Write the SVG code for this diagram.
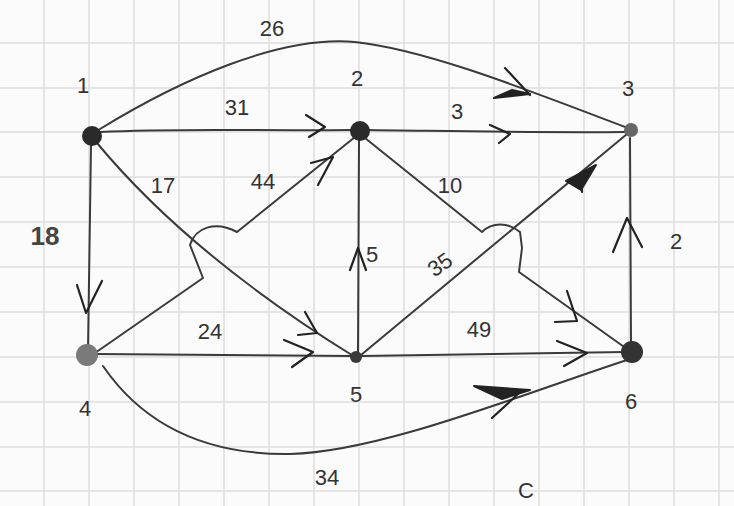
<svg xmlns="http://www.w3.org/2000/svg" width="734" height="506" viewBox="0 0 734 506">
<style>
.grid line{stroke:#dedede;stroke-width:1.5}
.edge{fill:none;stroke:#3a3a3a;stroke-width:2;stroke-linecap:round;stroke-linejoin:round}
.head{fill:none;stroke:#222;stroke-width:2.2;stroke-linecap:round;stroke-linejoin:round}
.solid{fill:#222;stroke:#222;stroke-width:2;stroke-linejoin:round}
.lbl{font-family:"Liberation Sans","DejaVu Sans",sans-serif;font-size:22px;fill:#333;text-anchor:middle;dominant-baseline:middle}
</style>
<rect width="734" height="506" fill="#fbfbfb"/>
<g class="grid">
<line x1="44" y1="0" x2="44" y2="506"/><line x1="89" y1="0" x2="89" y2="506"/><line x1="134" y1="0" x2="134" y2="506"/><line x1="179" y1="0" x2="179" y2="506"/><line x1="224" y1="0" x2="224" y2="506"/><line x1="269" y1="0" x2="269" y2="506"/><line x1="314" y1="0" x2="314" y2="506"/><line x1="359" y1="0" x2="359" y2="506"/><line x1="404" y1="0" x2="404" y2="506"/><line x1="449" y1="0" x2="449" y2="506"/><line x1="494" y1="0" x2="494" y2="506"/><line x1="539" y1="0" x2="539" y2="506"/><line x1="584" y1="0" x2="584" y2="506"/><line x1="629" y1="0" x2="629" y2="506"/><line x1="674" y1="0" x2="674" y2="506"/><line x1="719" y1="0" x2="719" y2="506"/>
<line x1="0" y1="43" x2="734" y2="43"/><line x1="0" y1="88" x2="734" y2="88"/><line x1="0" y1="132" x2="734" y2="132"/><line x1="0" y1="177" x2="734" y2="177"/><line x1="0" y1="222" x2="734" y2="222"/><line x1="0" y1="267" x2="734" y2="267"/><line x1="0" y1="312" x2="734" y2="312"/><line x1="0" y1="357" x2="734" y2="357"/><line x1="0" y1="402" x2="734" y2="402"/><line x1="0" y1="447" x2="734" y2="447"/><line x1="0" y1="491" x2="734" y2="491"/>
</g>
<g id="connectors">
<!-- 1 -> 3 (26) -->
<path class="edge" d="M100 129 C180 80 280 35 355 42 C430 50 540 95 628 128"/>
<path class="head" d="M505 68 L530 95"/><path class="solid" d="M494 98 L530 94 L512 90 Z"/>
<!-- 1 -> 2 (31) -->
<path class="edge" d="M100 132 C180 128 250 131 352 130"/>
<path class="head" d="M306 115 L325 127 L309 137"/>
<!-- 2 -> 3 (3) -->
<path class="edge" d="M366 130 C450 131 540 133 625 132"/>
<path class="head" d="M490 125 L510 134 L499 143"/>
<!-- 1 -> 4 (18) -->
<path class="edge" d="M91 145 L88 350"/>
<path class="head" d="M77 285 L86 313 L102 281"/>
<!-- 1 -> 5 (17) -->
<path class="edge" d="M97 143 Q190 255 355 357"/>
<path class="head" d="M305 312 L317 333 L298 335"/>
<!-- 4 -> 2 (44) with hop -->
<path class="edge" d="M95 353 L203 278 L190 245 C195 228 215 220 237 232 L355 137"/>
<path class="head" d="M311 163 L333 157 L318 185"/>
<!-- 4 -> 5 (24) -->
<path class="edge" d="M95 354 L352 356"/>
<path class="head" d="M284 340 L313 352 L292 367"/>
<!-- 5 -> 2 (5) -->
<path class="edge" d="M358 352 L359 140"/>
<path class="head" d="M350 270 L358 248 L366 270"/>
<!-- 2 -> 6 (10) with hop -->
<path class="edge" d="M365 138 L482 232 C492 222 508 222 520 232 L522 248 L519 272 L627 349"/>
<path class="head" d="M567 291 L577 321 L555 322"/>
<!-- 5 -> 3 (35) -->
<path class="edge" d="M361 355 L627 134"/>
<path class="solid" d="M596 165 L566 181 L581 190 Z"/><path class="head" d="M581 180 L582 192"/>
<!-- 5 -> 6 (49) -->
<path class="edge" d="M362 356 L625 352"/>
<path class="head" d="M557 341 L587 353 L564 366"/>
<!-- 6 -> 3 (2) -->
<path class="edge" d="M631 345 L630 138"/>
<path class="head" d="M613 252 L627 218 L642 247"/>
<!-- 4 -> 6 (34) -->
<path class="edge" d="M103 366 C140 420 200 455 290 454 C380 452 520 395 627 360"/>
<path class="solid" d="M474 386 L530 390 L502 399 Z"/><path class="head" d="M518 394 L492 418"/>
</g>
<g id="n1"><circle cx="92" cy="136" r="10" fill="#2a2a2a"/><text class="lbl" x="83" y="87">1</text></g>
<g id="n2"><circle cx="360" cy="131" r="10" fill="#2a2a2a"/><text class="lbl" x="357" y="80">2</text></g>
<g id="n3"><circle cx="631" cy="130" r="7" fill="#666"/><text class="lbl" x="628" y="90">3</text></g>
<g id="n4"><circle cx="87" cy="355" r="11" fill="#7a7a7a"/><text class="lbl" x="85" y="410">4</text></g>
<g id="n5"><circle cx="356" cy="357" r="6" fill="#3a3a3a"/><text class="lbl" x="356" y="396">5</text></g>
<g id="n6"><circle cx="632" cy="352" r="11" fill="#333"/><text class="lbl" x="631" y="403">6</text></g>
<g id="labels">
<text class="lbl" x="272" y="30">26</text>
<text class="lbl" x="237" y="109">31</text>
<text class="lbl" x="457" y="113">3</text>
<text class="lbl" x="163" y="187">17</text>
<text class="lbl" x="263" y="183">44</text>
<text class="lbl" x="450" y="187">10</text>
<text class="lbl" x="372" y="256">5</text>
<text class="lbl" x="441" y="266" transform="rotate(-35 441 266)">35</text>
<text class="lbl" x="676" y="243">2</text>
<text class="lbl" x="45" y="238" style="font-weight:bold;font-size:26px;fill:#444">18</text>
<text class="lbl" x="210" y="333">24</text>
<text class="lbl" x="479" y="331">49</text>
<text class="lbl" x="327" y="479">34</text>
<text class="lbl" x="526" y="492">C</text>
</g>
</svg>
